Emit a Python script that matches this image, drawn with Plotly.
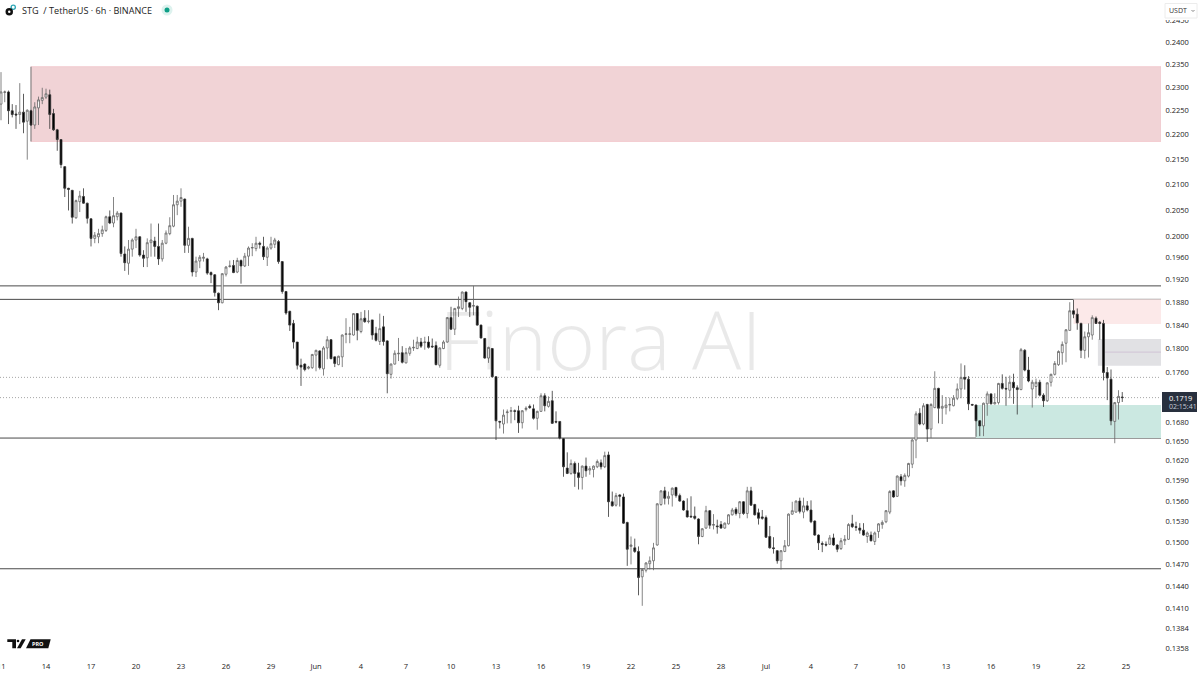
import pandas as pd
import plotly.graph_objects as go

opens = [
.2264,.2289,.2290,.2250,.2243,.2242,.2247,.2228,.2250,.2220,
.2256,.2272,.2279,.2284,.2244,.2210,.2190,.2135,.2092,.2088,
.2035,.2066,.2076,.2063,.2033,.1996,.1999,.2005,.2011,.2037,
.2025,.2037,.2044,.1967,.1950,.1976,.1993,.1999,.1965,.1960,
.1988,.1991,.1981,.1958,.1987,.2005,.2019,.2060,.2067,.2071,
.1983,.1996,.1934,.1954,.1959,.1958,.1933,.1929,.1896,.1879,
.1930,.1944,.1946,.1934,.1955,.1945,.1963,.1978,.1977,.1987,
.1981,.1961,.1978,.1985,.1990,.1953,.1899,.1864,.1843,.1811,
.1772,.1774,.1767,.1768,.1789,.1796,.1766,.1801,.1815,.1786,
.1773,.1786,.1824,.1824,.1823,.1860,.1829,.1852,.1846,.1849,
.1826,.1812,.1837,.1813,.1757,.1774,.1791,.1793,.1776,.1792,
.1801,.1800,.1811,.1810,.1811,.1804,.1805,.1772,.1800,.1811,
.1853,.1833,.1869,.1869,.1898,.1879,.1873,.1873,.1840,.1817,
.1784,.1800,.1753,.1681,.1677,.1695,.1697,.1698,.1698,.1679,
.1700,.1705,.1701,.1686,.1697,.1722,.1705,.1714,.1681,.1681,
.1654,.1609,.1601,.1616,.1602,.1595,.1612,.1606,.1607,.1611,
.1617,.1611,.1629,.1559,.1554,.1569,.1566,.1529,.1495,.1493,
.1488,.1453,.1462,.1471,.1475,.1497,.1555,.1575,.1564,.1569,
.1580,.1568,.1560,.1546,.1538,.1538,.1534,.1509,.1521,.1546,
.1525,.1524,.1526,.1521,.1527,.1540,.1548,.1542,.1559,.1542,
.1575,.1555,.1543,.1537,.1536,.1509,.1493,.1489,.1475,.1488,
.1496,.1541,.1544,.1560,.1544,.1553,.1547,.1531,.1511,.1499,
.1498,.1498,.1507,.1497,.1492,.1503,.1505,.1527,.1523,.1521,
.1518,.1509,.1511,.1502,.1516,.1526,.1530,.1544,.1575,.1567,
.1596,.1590,.1597,.1615,.1652,.1694,.1677,.1708,.1669,.1703,
.1734,.1702,.1703,.1707,.1706,.1718,.1733,.1752,.1749,.1708,
.1707,.1682,.1674,.1709,.1725,.1709,.1711,.1742,.1734,.1731,
.1744,.1735,.1732,.1797,.1764,.1733,.1737,.1744,.1723,.1714,
.1744,.1757,.1773,.1793,.1809,.1831,.1865,.1859,.1843,.1797,
.1820,.1823,.1852,.1845,.1843,.1760,.1749,.1681,.1711,.1720,
]
highs = [
.2333,.2293,.2293,.2264,.2262,.2309,.2286,.2253,.2252,.2268,
.2280,.2299,.2297,.2295,.2254,.2212,.2190,.2136,.2093,.2089,
.2070,.2087,.2092,.2064,.2034,.2008,.2014,.2020,.2039,.2049,
.2075,.2048,.2045,.1981,.1993,.1996,.2014,.2000,.1974,.1996,
.2024,.1999,.2024,.1993,.2011,.2036,.2079,.2079,.2092,.2072,
.2018,.1997,.1962,.1965,.1969,.1960,.1935,.1930,.1897,.1932,
.1945,.1955,.1956,.1960,.1957,.1969,.1981,.1987,.1999,.1990,
.1999,.1981,.1999,.1997,.1993,.1954,.1900,.1865,.1849,.1811,
.1783,.1775,.1771,.1791,.1798,.1797,.1804,.1821,.1816,.1786,
.1788,.1824,.1852,.1837,.1861,.1861,.1863,.1866,.1866,.1849,
.1837,.1860,.1856,.1814,.1775,.1797,.1818,.1804,.1801,.1804,
.1815,.1820,.1818,.1820,.1821,.1817,.1812,.1802,.1814,.1854,
.1872,.1870,.1890,.1899,.1899,.1880,.1909,.1874,.1841,.1818,
.1803,.1801,.1754,.1682,.1700,.1700,.1704,.1700,.1706,.1699,
.1705,.1708,.1708,.1698,.1726,.1726,.1721,.1730,.1697,.1681,
.1655,.1633,.1622,.1619,.1617,.1613,.1625,.1612,.1613,.1622,
.1622,.1634,.1634,.1574,.1572,.1570,.1571,.1530,.1509,.1506,
.1495,.1464,.1473,.1481,.1500,.1557,.1576,.1581,.1574,.1580,
.1581,.1571,.1561,.1564,.1567,.1552,.1535,.1521,.1553,.1547,
.1541,.1533,.1531,.1529,.1541,.1550,.1551,.1560,.1560,.1581,
.1581,.1556,.1549,.1547,.1539,.1524,.1508,.1490,.1490,.1504,
.1542,.1559,.1561,.1565,.1565,.1560,.1561,.1532,.1512,.1502,
.1502,.1511,.1513,.1498,.1507,.1511,.1528,.1540,.1530,.1528,
.1528,.1516,.1516,.1516,.1528,.1532,.1547,.1576,.1576,.1598,
.1600,.1601,.1617,.1654,.1697,.1702,.1710,.1709,.1710,.1762,
.1735,.1723,.1720,.1719,.1723,.1742,.1775,.1772,.1754,.1709,
.1708,.1683,.1711,.1729,.1726,.1726,.1743,.1757,.1753,.1755,
.1758,.1739,.1801,.1799,.1786,.1748,.1750,.1748,.1726,.1744,
.1758,.1779,.1797,.1812,.1833,.1880,.1884,.1869,.1844,.1829,
.1843,.1857,.1855,.1847,.1849,.1769,.1765,.1712,.1731,.1728,
]
lows = [
.2230,.2268,.2222,.2236,.2212,.2222,.2203,.2149,.2218,.2212,
.2220,.2264,.2275,.2212,.2208,.2167,.2132,.2075,.2049,.2024,
.2033,.2046,.2062,.2024,.1981,.1987,.1987,.1999,.2008,.2023,
.2017,.2030,.1962,.1936,.1929,.1962,.1978,.1962,.1943,.1943,
.1962,.1962,.1947,.1953,.1985,.2002,.2017,.2040,.2056,.1969,
.1969,.1926,.1925,.1941,.1953,.1929,.1914,.1890,.1866,.1878,
.1926,.1942,.1932,.1932,.1913,.1943,.1945,.1963,.1972,.1977,
.1956,.1945,.1975,.1978,.1949,.1895,.1858,.1830,.1800,.1765,
.1738,.1762,.1765,.1766,.1762,.1765,.1755,.1782,.1782,.1769,
.1772,.1769,.1809,.1809,.1822,.1814,.1826,.1844,.1843,.1815,
.1812,.1806,.1805,.1726,.1750,.1773,.1779,.1775,.1775,.1788,
.1796,.1799,.1801,.1798,.1800,.1801,.1772,.1768,.1799,.1810,
.1832,.1823,.1854,.1866,.1863,.1854,.1857,.1839,.1817,.1783,
.1776,.1752,.1652,.1670,.1662,.1678,.1678,.1683,.1663,.1670,
.1697,.1701,.1684,.1668,.1696,.1697,.1703,.1677,.1678,.1653,
.1596,.1600,.1599,.1581,.1577,.1577,.1596,.1599,.1595,.1609,
.1607,.1609,.1537,.1552,.1552,.1552,.1527,.1468,.1470,.1486,
.1428,.1414,.1459,.1463,.1462,.1496,.1553,.1555,.1555,.1552,
.1565,.1559,.1546,.1536,.1536,.1533,.1498,.1508,.1520,.1520,
.1519,.1513,.1520,.1520,.1526,.1539,.1539,.1535,.1540,.1535,
.1553,.1539,.1526,.1533,.1507,.1492,.1485,.1471,.1463,.1487,
.1495,.1540,.1543,.1542,.1535,.1545,.1528,.1510,.1490,.1487,
.1495,.1497,.1496,.1487,.1490,.1497,.1504,.1521,.1517,.1513,
.1510,.1500,.1502,.1497,.1507,.1520,.1528,.1541,.1565,.1566,
.1583,.1581,.1595,.1609,.1624,.1675,.1675,.1649,.1655,.1702,
.1678,.1677,.1692,.1697,.1705,.1715,.1718,.1732,.1699,.1706,
.1657,.1658,.1658,.1690,.1708,.1708,.1708,.1732,.1706,.1718,
.1709,.1692,.1731,.1762,.1744,.1703,.1718,.1721,.1704,.1712,
.1737,.1755,.1771,.1773,.1777,.1830,.1852,.1832,.1784,.1783,
.1785,.1815,.1842,.1815,.1747,.1715,.1675,.1647,.1684,.1712,
]
closes = [
.2290,.2290,.2250,.2242,.2241,.2247,.2226,.2251,.2220,.2258,
.2273,.2278,.2286,.2242,.2210,.2190,.2139,.2092,.2090,.2036,
.2068,.2077,.2063,.2034,.1996,.2002,.2005,.2012,.2037,.2025,
.2039,.2044,.1968,.1951,.1976,.1993,.1999,.1965,.1959,.1988,
.1993,.1981,.1958,.1987,.2006,.2020,.2060,.2067,.2074,.1983,
.1996,.1934,.1954,.1961,.1961,.1932,.1929,.1897,.1879,.1931,
.1943,.1945,.1933,.1955,.1945,.1963,.1978,.1979,.1987,.1985,
.1962,.1978,.1986,.1993,.1953,.1899,.1861,.1840,.1811,.1772,
.1769,.1765,.1769,.1790,.1797,.1768,.1801,.1815,.1783,.1775,
.1787,.1823,.1825,.1825,.1860,.1831,.1851,.1846,.1847,.1823,
.1814,.1834,.1812,.1758,.1774,.1792,.1792,.1777,.1793,.1801,
.1802,.1811,.1804,.1811,.1802,.1803,.1773,.1801,.1811,.1853,
.1833,.1869,.1872,.1898,.1881,.1871,.1874,.1840,.1818,.1784,
.1802,.1753,.1682,.1680,.1691,.1696,.1698,.1697,.1679,.1698,
.1702,.1703,.1686,.1697,.1722,.1706,.1713,.1678,.1680,.1655,
.1611,.1601,.1616,.1601,.1595,.1612,.1605,.1608,.1612,.1619,
.1611,.1628,.1559,.1553,.1568,.1567,.1528,.1491,.1497,.1488,
.1452,.1463,.1472,.1475,.1493,.1556,.1575,.1564,.1567,.1579,
.1568,.1560,.1547,.1537,.1537,.1535,.1509,.1520,.1546,.1525,
.1526,.1523,.1521,.1528,.1540,.1547,.1542,.1559,.1542,.1575,
.1554,.1540,.1535,.1535,.1508,.1493,.1492,.1475,.1489,.1496,
.1541,.1546,.1560,.1545,.1553,.1547,.1530,.1511,.1500,.1498,
.1497,.1507,.1497,.1491,.1503,.1505,.1526,.1523,.1522,.1518,
.1511,.1514,.1503,.1514,.1527,.1529,.1546,.1574,.1566,.1597,
.1590,.1598,.1616,.1652,.1693,.1677,.1706,.1669,.1708,.1734,
.1702,.1705,.1707,.1708,.1718,.1733,.1752,.1749,.1709,.1707,
.1682,.1674,.1710,.1725,.1709,.1711,.1742,.1734,.1733,.1744,
.1735,.1732,.1798,.1764,.1746,.1744,.1744,.1723,.1714,.1743,
.1757,.1775,.1795,.1807,.1832,.1865,.1859,.1844,.1797,.1820,
.1827,.1853,.1843,.1843,.1760,.1751,.1682,.1711,.1721,.1719,
]
bar_start = "2025-05-11"
bar_step = "6h"

price_ticks = [.2450,.2400,.2350,.2300,.2250,.2200,.2150,.2100,.2050,.2000,.1960,.1920,
               .1880,.1840,.1800,.1760,.1680,.1650,.1620,.1590,.1560,.1530,.1500,.1470,
               .1440,.1410,.1384,.1358]
first_date_tick = "2025-05-11"
first_date_label = "11"
date_ticks = ["2025-05-14","2025-05-17","2025-05-20","2025-05-23","2025-05-26",
              "2025-05-29","2025-06-01","2025-06-04","2025-06-07","2025-06-10","2025-06-13",
              "2025-06-16","2025-06-19","2025-06-22","2025-06-25","2025-06-28","2025-07-01",
              "2025-07-04","2025-07-07","2025-07-10","2025-07-13","2025-07-16","2025-07-19",
              "2025-07-22","2025-07-25"]
date_labels = ["14","17","20","23","26","29","Jun","4","7","10","13","16","19","22",
               "25","28","Jul","4","7","10","13","16","19","22","25"]

level_lines = [.1909,.1885,.1655,.1464]
dotted_lines = [.1752,.1719]
last_price = "0.1719"
countdown = "02:15:41"

W, H, PW, PH = 1200, 675, 1161, 655
AXIS_FONT = "Open Sans"
px = lambda x: x / PW
py = lambda y: 1 - y / PH
dates = pd.date_range(bar_start, periods=len(closes), freq=bar_step)

fig = go.Figure(go.Candlestick(
    x=dates, open=opens, high=highs, low=lows, close=closes,
    increasing=dict(line=dict(color="#666666", width=0.8), fillcolor="#ffffff"),
    decreasing=dict(line=dict(color="#333333", width=0.8), fillcolor="#000000"),
    hoverinfo="skip", showlegend=False,
))

shapes = []
def zone(x0, x1, p0, p1, color, edge=None):
    shapes.append(dict(type="rect", xref="x", yref="y", x0=x0, x1=x1, y0=p0, y1=p1,
                       fillcolor=color, line=dict(width=0.8 if edge else 0, color=edge or color),
                       layer="below"))

xend = "2025-07-27 08:00"
zone("2025-05-13 00:00", xend, .2186, .2345, "#F1D3D6", "#F3C7CB")
shapes.append(dict(type="line", xref="x", yref="y", x0="2025-05-13 00:00", x1="2025-05-13 00:00",
                   y0=.2186, y1=.2345, line=dict(color="#8a8a8a", width=1.2), layer="below"))
zone("2025-07-21 12:00", xend, .1842, .1885, "#FCE9E9")
zone("2025-07-23 03:00", xend, .1771, .1816, "#E1E1E4")
zone("2025-07-15 00:00", xend, .1655, .1707, "#CBE8E1")
shapes.append(dict(type="line", xref="x", yref="y", x0="2025-07-23 14:00", x1=xend, y0=.1794, y1=.1794,
                   line=dict(color="#CDBBD2", width=0.8), layer="below"))
for v in level_lines:
    shapes.append(dict(type="line", xref="paper", yref="y", x0=0, x1=1, y0=v, y1=v,
                       line=dict(color="#4a4a4a", width=1), layer="below"))
for v in dotted_lines:
    shapes.append(dict(type="line", xref="paper", yref="y", x0=0, x1=1, y0=v, y1=v,
                       line=dict(color="#8f8f8f", width=0.8, dash="1px,2px"), layer="below"))

def rect(x0, y0, x1, y1, color, line=None, layer="above"):
    shapes.append(dict(type="rect", xref="paper", yref="paper", x0=px(x0), x1=px(x1), y0=py(y1), y1=py(y0),
                       fillcolor=color, line=dict(width=1 if line else 0, color=line or color), layer=layer))
def circle(x0, y0, x1, y1, color):
    shapes.append(dict(type="circle", xref="paper", yref="paper", x0=px(x0), x1=px(x1), y0=py(y1), y1=py(y0),
                       fillcolor=color, line=dict(width=0)))
def poly(points, color):
    path = "M" + " L".join(f"{px(a):.5f},{py(b):.5f}" for a, b in points) + " Z"
    shapes.append(dict(type="path", xref="paper", yref="paper", path=path, fillcolor=color, line=dict(width=0)))

# header icons
circle(10.5, 4.5, 16, 10, "#2BA6B5")
circle(11.8, 5.8, 14.7, 8.7, "#ffffff")
circle(5.5, 8, 13, 15.5, "#111111")
circle(8, 10.5, 10.5, 13, "#ffffff")
circle(161.5, 4.5, 172.5, 15.5, "#DDF2EE")
circle(164.5, 7.5, 169.5, 12.5, "#0E9F87")

# TradingView logo
poly([(7.3, 639.3), (16, 639.3), (16, 648.3), (12.3, 648.3), (12.3, 642), (7.3, 642)], "#111111")
circle(16.7, 639.7, 19.3, 642.3, "#111111")
poly([(22, 639.3), (25.7, 639.3), (20.7, 648.3), (17, 648.3)], "#111111")
poly([(30.5, 639.3), (50.7, 639.3), (48.3, 648.3), (26, 648.3)], "#111111")

# USDT selector and covering block over the clipped top axis label
rect(1162, 0, 1200, 20, "#ffffff")
rect(1165, 3.5, 1197, 18, "#ffffff", "#ececec")
shapes.append(dict(type="path", xref="paper", yref="paper",
                   path=f"M{px(1191.5)},{py(10)} L{px(1193)},{py(11.5)} L{px(1194.5)},{py(10)}",
                   line=dict(color="#555555", width=0.7)))
# last price label
rect(1162, 392, 1197, 412, "#28303E")

def text(x, y, s, size, color="#222222", anchor="left", family=AXIS_FONT, **kw):
    return dict(x=px(x), y=py(y), xref="paper", yref="paper", text=s, showarrow=False, xanchor=anchor,
                yanchor="middle", font=dict(size=size, color=color, family=family, **kw))

annotations = [
    text(600, 338, "Finora AI", 82, "rgba(0,0,0,0.085)", "center", weight=300),
    text(19.5, 10, "STG&nbsp;&nbsp;/&nbsp;TetherUS · 6h · BINANCE", 9.1, "#222222"),
    text(1167, 10.5, "USDT", 7, "#333333"),
    text(1167, 398, last_price, 7.5, "#ffffff"),
    text(1167, 406.5, countdown, 7, "#C7CCD6"),
    text(38.2, 644, "PRO", 5.5, "#ffffff", "center", weight=700),
    dict(x=first_date_tick, xref="x", y=py(665.5), yref="paper", text=first_date_label, showarrow=False,
         xanchor="center", yanchor="middle", font=dict(size=7.5, family=AXIS_FONT, color="#222222")),
]

fig.update_layout(
    width=W, height=H, autosize=False,
    margin=dict(l=0, r=W - PW, t=0, b=H - PH, pad=0),
    paper_bgcolor="#ffffff", plot_bgcolor="#ffffff",
    showlegend=False, dragmode=False, boxgap=0.25,
    shapes=shapes, annotations=annotations,
    xaxis=dict(type="date", range=["2025-05-10 22:24", xend], rangeslider=dict(visible=False),
               tickmode="array", tickvals=date_ticks, ticktext=date_labels, tickangle=0,
               showgrid=False, zeroline=False, showline=False, ticks="outside", ticklen=4,
               tickcolor="#ffffff", tickfont=dict(size=7.5, family=AXIS_FONT, color="#222222")),
    yaxis=dict(type="log", side="right", range=[-0.8696, -0.6027],
               tickmode="array", tickvals=price_ticks, ticktext=[f"{v:.4f}" for v in price_ticks],
               showgrid=False, zeroline=False, showline=False, ticks="outside", ticklen=2,
               tickcolor="#ffffff", tickfont=dict(size=7.5, family=AXIS_FONT, color="#222222")),
)

fig.write_html("out.html", config=dict(displayModeBar=False, responsive=False),
               post_script="document.body.style.margin='0';document.body.style.overflow='hidden';")
